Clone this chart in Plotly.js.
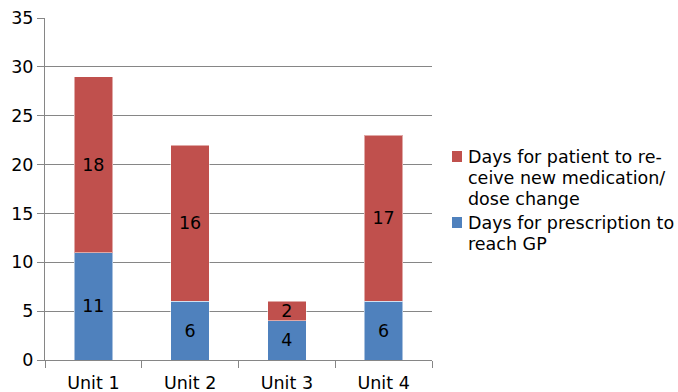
<!DOCTYPE html>
<html>
<head>
<meta charset="utf-8">
<script src="https://cdn.plot.ly/plotly-3.0.1.min.js"></script>
<style>html,body{margin:0;padding:0;background:#fff;}#chart{width:678px;height:392px;}</style>
</head>
<body>
<div id="chart"></div>
<script>
const categories = ["Unit 1", "Unit 2", "Unit 3", "Unit 4"];
const prescriptionDays = [11, 6, 4, 6];
const patientDays = [18, 16, 2, 17];
const prescriptionName = ["Days for prescription to", "reach GP"];
const patientName = ["Days for patient to re-", "ceive new medication/", "dose change"];
const colors = {prescription: "#4F81BD", patient: "#C0504D"};

const W = 678, H = 392;
const M = {l: 45, r: 246, t: 18, b: 32};
const PW = W - M.l - M.r, PH = H - M.t - M.b;
const px = x => (x - M.l) / PW;
const py = y => (H - M.b - y) / PH;

const font = {family: "DejaVu Sans", size: 17.5, color: "#000"};
const traces = [
  {type: "bar", x: categories, y: prescriptionDays, name: prescriptionName.join(" "),
   marker: {color: colors.prescription, line: {color: "rgba(255,255,255,0.5)", width: 1}},
   text: prescriptionDays.map(String), textposition: "inside", insidetextanchor: "middle",
   textangle: 0, constraintext: "none", textfont: font, hoverinfo: "none"},
  {type: "bar", x: categories, y: patientDays, name: patientName.join(" "),
   marker: {color: colors.patient, line: {color: "rgba(255,255,255,0.5)", width: 1}},
   text: patientDays.map(String), textposition: "inside", insidetextanchor: "middle",
   textangle: 0, constraintext: "none", textfont: font, hoverinfo: "none"}
];

// Custom legend (drawn as shapes + annotations to match the original wrapping)
const legendItems = [
  {lines: patientName, color: colors.patient, top: 157},
  {lines: prescriptionName, color: colors.prescription, top: 223}
];
const shapes = [], annotations = [];
legendItems.forEach(item => {
  shapes.push({type: "rect", xref: "paper", yref: "paper",
    x0: px(452), x1: px(462), y0: py(item.top - 6), y1: py(item.top + 5),
    fillcolor: item.color, line: {width: 0}});
  item.lines.forEach((ln, i) => {
    annotations.push({xref: "paper", yref: "paper", x: px(466), y: py(item.top + i * 20.8),
      xanchor: "left", yanchor: "middle", text: ln, showarrow: false, font: font, align: "left"});
  });
});

const layout = {
  width: W, height: H, margin: M,
  barmode: "stack", bargap: 0.6,
  font: font, paper_bgcolor: "#fff", plot_bgcolor: "#fff",
  showlegend: false, shapes: shapes, annotations: annotations,
  xaxis: {showline: true, linecolor: "#868686", linewidth: 1, ticks: "outside", tickson: "boundaries",
          ticklen: 7, tickcolor: "#868686", showgrid: false, tickfont: font, fixedrange: true,
          ticklabelstandoff: 7, automargin: false},
  yaxis: {range: [0, 35], dtick: 5, showline: true, linecolor: "#868686", linewidth: 1,
          ticks: "outside", ticklen: 7, tickcolor: "#868686", gridcolor: "#868686", gridwidth: 1,
          zeroline: false, tickfont: font, fixedrange: true, automargin: false}
};
Plotly.newPlot("chart", traces, layout, {displayModeBar: false, staticPlot: true});
</script>
</body>
</html>
